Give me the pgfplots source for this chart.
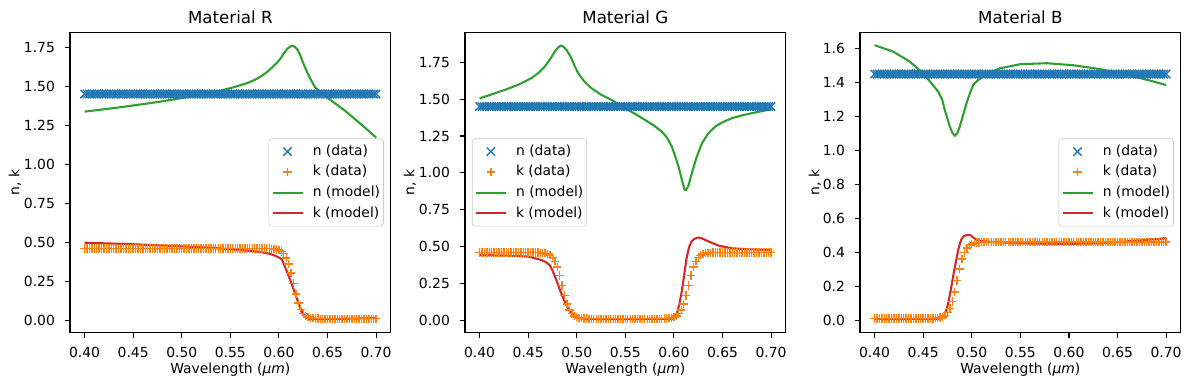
\documentclass[border=0pt]{standalone}
\usepackage{fontspec}
\setmainfont{DejaVu Sans}
\usepackage{pgfplots}
\usepackage{pgfplotstable}
\pgfplotsset{compat=1.18}
\definecolor{C0}{HTML}{1F77B4}
\definecolor{C1}{HTML}{FF7F0E}
\definecolor{C2}{HTML}{2CA02C}
\definecolor{C3}{HTML}{D62728}
\pgfplotstableread{
x n kR kG kB
0.4000 1.45 0.460 0.460 0.010
0.4025 1.45 0.460 0.460 0.010
0.4050 1.45 0.460 0.460 0.010
0.4075 1.45 0.460 0.460 0.010
0.4100 1.45 0.460 0.460 0.010
0.4125 1.45 0.460 0.460 0.010
0.4150 1.45 0.460 0.460 0.010
0.4175 1.45 0.460 0.460 0.010
0.4200 1.45 0.460 0.460 0.010
0.4225 1.45 0.460 0.460 0.010
0.4250 1.45 0.460 0.460 0.010
0.4275 1.45 0.460 0.460 0.010
0.4300 1.45 0.460 0.460 0.010
0.4325 1.45 0.460 0.460 0.010
0.4350 1.45 0.460 0.460 0.010
0.4375 1.45 0.460 0.460 0.010
0.4400 1.45 0.460 0.460 0.010
0.4425 1.45 0.460 0.460 0.010
0.4450 1.45 0.460 0.460 0.010
0.4475 1.45 0.460 0.460 0.010
0.4500 1.45 0.460 0.460 0.010
0.4525 1.45 0.460 0.460 0.010
0.4550 1.45 0.460 0.460 0.010
0.4575 1.45 0.460 0.460 0.010
0.4600 1.45 0.460 0.459 0.011
0.4625 1.45 0.460 0.458 0.012
0.4650 1.45 0.460 0.457 0.013
0.4675 1.45 0.460 0.454 0.016
0.4700 1.45 0.460 0.450 0.020
0.4725 1.45 0.460 0.441 0.029
0.4750 1.45 0.460 0.426 0.044
0.4775 1.45 0.460 0.400 0.070
0.4800 1.45 0.460 0.360 0.110
0.4825 1.45 0.460 0.303 0.167
0.4850 1.45 0.460 0.235 0.235
0.4875 1.45 0.460 0.167 0.303
0.4900 1.45 0.460 0.110 0.360
0.4925 1.45 0.460 0.070 0.400
0.4950 1.45 0.460 0.044 0.426
0.4975 1.45 0.460 0.029 0.441
0.5000 1.45 0.460 0.020 0.450
0.5025 1.45 0.460 0.016 0.454
0.5050 1.45 0.460 0.013 0.457
0.5075 1.45 0.460 0.012 0.458
0.5100 1.45 0.460 0.011 0.459
0.5125 1.45 0.460 0.010 0.460
0.5150 1.45 0.460 0.010 0.460
0.5175 1.45 0.460 0.010 0.460
0.5200 1.45 0.460 0.010 0.460
0.5225 1.45 0.460 0.010 0.460
0.5250 1.45 0.460 0.010 0.460
0.5275 1.45 0.460 0.010 0.460
0.5300 1.45 0.460 0.010 0.460
0.5325 1.45 0.460 0.010 0.460
0.5350 1.45 0.460 0.010 0.460
0.5375 1.45 0.460 0.010 0.460
0.5400 1.45 0.460 0.010 0.460
0.5425 1.45 0.460 0.010 0.460
0.5450 1.45 0.460 0.010 0.460
0.5475 1.45 0.460 0.010 0.460
0.5500 1.45 0.460 0.010 0.460
0.5525 1.45 0.460 0.010 0.460
0.5550 1.45 0.460 0.010 0.460
0.5575 1.45 0.460 0.010 0.460
0.5600 1.45 0.460 0.010 0.460
0.5625 1.45 0.460 0.010 0.460
0.5650 1.45 0.460 0.010 0.460
0.5675 1.45 0.460 0.010 0.460
0.5700 1.45 0.460 0.010 0.460
0.5725 1.45 0.460 0.010 0.460
0.5750 1.45 0.460 0.010 0.460
0.5775 1.45 0.460 0.010 0.460
0.5800 1.45 0.460 0.010 0.460
0.5825 1.45 0.460 0.010 0.460
0.5850 1.45 0.460 0.010 0.460
0.5875 1.45 0.460 0.010 0.460
0.5900 1.45 0.459 0.011 0.460
0.5925 1.45 0.458 0.012 0.460
0.5950 1.45 0.457 0.013 0.460
0.5975 1.45 0.454 0.016 0.460
0.6000 1.45 0.450 0.020 0.460
0.6025 1.45 0.441 0.029 0.460
0.6050 1.45 0.426 0.044 0.460
0.6075 1.45 0.400 0.070 0.460
0.6100 1.45 0.360 0.110 0.460
0.6125 1.45 0.303 0.167 0.460
0.6150 1.45 0.235 0.235 0.460
0.6175 1.45 0.167 0.303 0.460
0.6200 1.45 0.110 0.360 0.460
0.6225 1.45 0.070 0.400 0.460
0.6250 1.45 0.044 0.426 0.460
0.6275 1.45 0.029 0.441 0.460
0.6300 1.45 0.020 0.450 0.460
0.6325 1.45 0.016 0.454 0.460
0.6350 1.45 0.013 0.457 0.460
0.6375 1.45 0.012 0.458 0.460
0.6400 1.45 0.011 0.459 0.460
0.6425 1.45 0.010 0.460 0.460
0.6450 1.45 0.010 0.460 0.460
0.6475 1.45 0.010 0.460 0.460
0.6500 1.45 0.010 0.460 0.460
0.6525 1.45 0.010 0.460 0.460
0.6550 1.45 0.010 0.460 0.460
0.6575 1.45 0.010 0.460 0.460
0.6600 1.45 0.010 0.460 0.460
0.6625 1.45 0.010 0.460 0.460
0.6650 1.45 0.010 0.460 0.460
0.6675 1.45 0.010 0.460 0.460
0.6700 1.45 0.010 0.460 0.460
0.6725 1.45 0.010 0.460 0.460
0.6750 1.45 0.010 0.460 0.460
0.6775 1.45 0.010 0.460 0.460
0.6800 1.45 0.010 0.460 0.460
0.6825 1.45 0.010 0.460 0.460
0.6850 1.45 0.010 0.460 0.460
0.6875 1.45 0.010 0.460 0.460
0.6900 1.45 0.010 0.460 0.460
0.6925 1.45 0.010 0.460 0.460
0.6950 1.45 0.010 0.460 0.460
0.6975 1.45 0.010 0.460 0.460
0.7000 1.45 0.010 0.460 0.460
}\datatable

\pgfplotsset{
  /pgf/number format/assume math mode=true,
  panel/.style={
    scale only axis, width=230.9pt, height=216.3pt,
    xmin=0.385, xmax=0.715,
    xtick={0.4,0.45,0.5,0.55,0.6,0.65,0.7},
    tick align=outside, tick pos=left, major tick length=3.5pt,
    every tick/.style={line width=0.8pt, black},
    axis line style={line width=0.8pt},
    minor tick num=0,
    tick label style={font=\fontsize{10}{12}\selectfont},
    xticklabel style={anchor=base, yshift=-14.1pt, inner sep=0pt,
      /pgf/number format/fixed, /pgf/number format/fixed zerofill, /pgf/number format/precision=2},
    yticklabel style={anchor=east, inner sep=0pt, xshift=-7.2pt},
    label style={font=\fontsize{10}{12}\selectfont},
    xlabel={Wavelength (\textit{μm})},
    xlabel style={at={(axis description cs:0.5,0)}, anchor=base, yshift=-29.7pt, inner sep=0pt},
    ylabel={n, k},
    every axis title shift=0pt,
    title style={at={(axis description cs:0.5,1)}, anchor=base, yshift=6pt, inner sep=0pt, font=\fontsize{12}{14}\selectfont},
    legend style={font=\fontsize{10}{12}\selectfont, draw=black!20, fill=white, fill opacity=0.8, text opacity=1, draw opacity=1,
      rounded corners=2pt, inner sep=1.85pt, column sep=6pt, row sep=0pt,
      nodes={inner xsep=0.6pt, inner ysep=2.15pt, text height=8pt, text depth=2.5pt}},
    legend cell align=left,
    legend image code/.code={\draw[mark repeat=2,mark phase=2,##1] plot coordinates {(0pt,0pt) (10.8pt,0pt) (21.6pt,0pt)};},
    ndata/.style={only marks, mark=x, mark size=4.24pt, color=C0, line width=1pt},
    kdata/.style={only marks, mark=+, mark size=3pt, color=C1, line width=1pt},
    nmodel/.style={no marks, color=C2, line width=1.5pt, line join=round},
    kmodel/.style={no marks, color=C3, line width=1.5pt, line join=round},
  },
  legR/.style={legend style={at={(1,0.5)}, xshift=-5pt, anchor=east}},
  legL/.style={legend style={at={(0,0.5)}, xshift=5pt, anchor=west}},
}

\begin{document}
\begin{tikzpicture}
\useasboundingbox (-50.4pt,-41.3pt) rectangle (806.4pt,239.5pt);
% ---------- Material R ----------
\begin{axis}[panel, legR, at={(0pt,0pt)}, anchor=south west,
  title={Material R}, ymin=-0.0795, ymax=1.846,
  ytick={0,0.25,0.5,0.75,1,1.25,1.5,1.75},
  yticklabel style={/pgf/number format/fixed, /pgf/number format/fixed zerofill, /pgf/number format/precision=2},
  ylabel style={at={(axis description cs:-0.1715,0.5)}, anchor=center, inner sep=0pt}]
\addplot[ndata] table[x=x, y=n] {\datatable};
\addplot[kdata] table[x=x, y=kR] {\datatable};
\addplot[nmodel] coordinates {
(0.400,1.337) (0.420,1.352) (0.440,1.368) (0.460,1.385) (0.480,1.403) (0.500,1.424)
(0.520,1.446) (0.540,1.472) (0.555,1.496) (0.567,1.519) (0.575,1.540) (0.582,1.565)
(0.588,1.592) (0.594,1.626) (0.599,1.658) (0.602,1.680) (0.605,1.712) (0.609,1.742)
(0.613,1.758) (0.616,1.755) (0.619,1.735) (0.622,1.697) (0.625,1.648) (0.629,1.590)
(0.633,1.540) (0.637,1.495) (0.642,1.465) (0.646,1.444) (0.652,1.416) (0.660,1.380)
(0.667,1.348) (0.675,1.306) (0.685,1.253) (0.693,1.210) (0.700,1.170)};
\addplot[kmodel] coordinates {
(0.400,0.497) (0.450,0.487) (0.500,0.474) (0.530,0.464) (0.550,0.455) (0.565,0.448)
(0.577,0.440) (0.585,0.433) (0.591,0.425) (0.596,0.414) (0.600,0.402) (0.603,0.391)
(0.607,0.330) (0.6116,0.258) (0.617,0.165) (0.622,0.077) (0.625,0.040) (0.627,0.019)
(0.6305,0.008) (0.650,0.008) (0.675,0.010) (0.700,0.014)};
\legend{n (data), k (data), n (model), k (model)}
\end{axis}
% ---------- Material G ----------
\begin{axis}[panel, legL, at={(284.4pt,0pt)}, anchor=south west,
  title={Material G}, ymin=-0.0841, ymax=1.954,
  ytick={0,0.25,0.5,0.75,1,1.25,1.5,1.75},
  yticklabel style={/pgf/number format/fixed, /pgf/number format/fixed zerofill, /pgf/number format/precision=2},
  ylabel style={at={(axis description cs:-0.1715,0.5)}, anchor=center, inner sep=0pt}]
\addplot[ndata] table[x=x, y=n] {\datatable};
\addplot[kdata] table[x=x, y=kG] {\datatable};
\addplot[nmodel] coordinates {
(0.400,1.505) (0.4258,1.562) (0.440,1.598) (0.4533,1.642) (0.461,1.680) (0.4671,1.721)
(0.472,1.765) (0.4774,1.822) (0.481,1.852) (0.4836,1.863) (0.4865,1.855) (0.4894,1.834)
(0.494,1.785) (0.4975,1.730) (0.5015,1.676) (0.508,1.618) (0.5152,1.574) (0.525,1.530)
(0.5359,1.495) (0.5496,1.438) (0.560,1.400) (0.5703,1.359) (0.580,1.318) (0.5875,1.280)
(0.593,1.238) (0.5978,1.178) (0.601,1.120) (0.6047,1.042) (0.6085,0.945) (0.6110,0.885)
(0.6125,0.882) (0.6150,0.915) (0.6184,0.997) (0.623,1.100) (0.6288,1.200) (0.635,1.265)
(0.6425,1.314) (0.650,1.343) (0.6597,1.371) (0.670,1.390) (0.6804,1.405) (0.690,1.418)
(0.700,1.431)};
\addplot[kmodel] coordinates {
(0.400,0.443) (0.430,0.438) (0.450,0.432) (0.4636,0.409) (0.468,0.395) (0.472,0.375)
(0.4745,0.345) (0.477,0.307) (0.4805,0.245) (0.484,0.183) (0.4875,0.128) (0.491,0.081)
(0.4935,0.055) (0.4963,0.036) (0.4995,0.021) (0.503,0.013) (0.510,0.009) (0.550,0.008)
(0.598,0.010) (0.6005,0.020) (0.603,0.047) (0.6055,0.105) (0.608,0.194) (0.6105,0.305)
(0.613,0.420) (0.6155,0.495) (0.618,0.533) (0.621,0.552) (0.625,0.561) (0.628,0.558)
(0.632,0.545) (0.646,0.506) (0.6597,0.488) (0.677,0.481) (0.700,0.477)};
\legend{n (data), k (data), n (model), k (model)}
\end{axis}
% ---------- Material B ----------
\begin{axis}[panel, legR, at={(568.8pt,0pt)}, anchor=south west,
  title={Material B}, ymin=-0.073, ymax=1.6966,
  ytick={0,0.2,0.4,0.6,0.8,1,1.2,1.4,1.6},
  yticklabel style={/pgf/number format/fixed, /pgf/number format/fixed zerofill, /pgf/number format/precision=1},
  ylabel style={at={(axis description cs:-0.1403,0.5)}, anchor=center, inner sep=0pt}]
\addplot[ndata] table[x=x, y=n] {\datatable};
\addplot[kdata] table[x=x, y=kB] {\datatable};
\addplot[nmodel] coordinates {
(0.400,1.620) (0.4189,1.583) (0.4361,1.524) (0.4499,1.455) (0.4585,1.396) (0.4654,1.347)
(0.4695,1.300) (0.4722,1.239) (0.4774,1.141) (0.480,1.105) (0.4826,1.086) (0.485,1.100)
(0.4877,1.141) (0.4946,1.278) (0.4985,1.345) (0.5015,1.386) (0.5065,1.415) (0.5118,1.435)
(0.520,1.462) (0.529,1.484) (0.5496,1.508) (0.5772,1.514) (0.6047,1.502) (0.6322,1.479)
(0.6597,1.446) (0.6804,1.416) (0.700,1.386)};
\addplot[kmodel] coordinates {
(0.400,0.008) (0.460,0.008) (0.4688,0.010) (0.4715,0.025) (0.474,0.060) (0.4765,0.120)
(0.479,0.198) (0.4815,0.280) (0.484,0.355) (0.4865,0.425) (0.489,0.473) (0.4915,0.494)
(0.4939,0.500) (0.4965,0.503) (0.499,0.500) (0.501,0.490) (0.5045,0.475) (0.509,0.467)
(0.5153,0.463) (0.5496,0.453) (0.591,0.449) (0.632,0.453) (0.670,0.469) (0.700,0.483)};
\legend{n (data), k (data), n (model), k (model)}
\end{axis}
\end{tikzpicture}
\end{document}
